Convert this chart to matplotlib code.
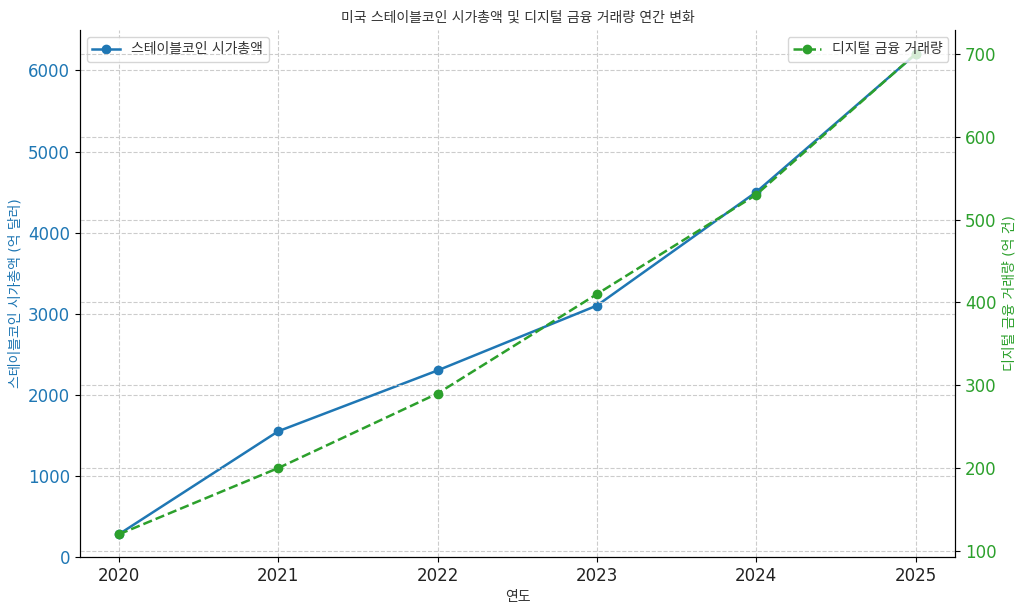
import matplotlib
matplotlib.use("Agg")
import matplotlib.pyplot as plt

plt.rcParams['font.family'] = ['DejaVu Sans', 'Noto Sans CJK KR']

years = [2020, 2021, 2022, 2023, 2024, 2025]
market_cap = [280, 1550, 2300, 3100, 4500, 6200]
volume = [120, 200, 290, 410, 530, 700]

blue = '#1f77b4'
green = '#2ca02c'

fig, ax = plt.subplots(figsize=(10.24, 6.1), dpi=100)
fig.subplots_adjust(left=0.078, right=0.933, top=0.951, bottom=0.087)

l1, = ax.plot(years, market_cap, color=blue, marker='o', markersize=6, linewidth=1.8,
              label='스테이블코인 시가총액')
ax.set_ylim(0, 6500)
ax.set_xlim(2019.755, 2025.25)
ax.set_xlabel('연도', fontsize=10, color='#333333')
ax.set_ylabel('스테이블코인 시가총액 (억 달러)', fontsize=10, color=blue)
ax.tick_params(axis='y', labelcolor=blue, labelsize=12)
ax.tick_params(axis='x', labelsize=12, labelcolor='#222222')
ax.grid(True, linestyle='--', color='#cccccc', linewidth=0.8)

ax2 = ax.twinx()
l2, = ax2.plot(years, volume, color=green, marker='o', markersize=6, linewidth=1.8,
               linestyle='--', label='디지털 금융 거래량')
ax2.set_ylim(92.7, 729)
ax2.set_ylabel('디지털 금융 거래량 (억 건)', fontsize=10, color=green)
ax2.tick_params(axis='y', labelcolor=green, labelsize=12)
ax2.grid(True, linestyle='--', color='#cccccc', linewidth=0.8)

for a in (ax, ax2):
    a.spines['top'].set_visible(False)

leg1 = ax.legend(loc='upper left', fontsize=10)
leg2 = ax2.legend(loc='upper right', fontsize=10)
for lg in (leg1, leg2):
    for t in lg.get_texts():
        t.set_color('#333333')
ax.set_title('미국 스테이블코인 시가총액 및 디지털 금융 거래량 연간 변화', fontsize=10, color='#333333')

fig.savefig('out.png')
